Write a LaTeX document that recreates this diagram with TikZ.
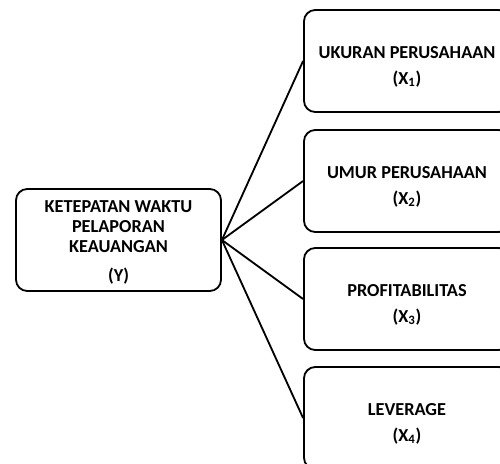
\documentclass[tikz,border=0pt]{standalone}
\usepackage{fontspec}
\setmainfont{Carlito}
\usetikzlibrary{positioning}

\tikzset{
  varbox/.style={draw, line width=1.3pt, rounded corners=8pt, align=center,
    font=\bfseries\fontsize{13}{14.2}\selectfont, inner sep=0pt},
  link/.style={line width=1.3pt}
}
\newcommand{\lowstrut}{\rule{0pt}{17pt}}

\begin{document}
\begin{tikzpicture}[x=0.025cm, y=-0.025cm]
            \useasboundingbox (0,0) rectangle (500,463);
            % Dependent variable
            \node[varbox, minimum width=205*0.025cm, minimum height=102*0.025cm] (y) at (118.5, 240) {\rule{0pt}{12pt}KETEPATAN WAKTU\\PELAPORAN\\KEAUANGAN\\[6pt](Y)};

            % Independent variables
            \node[varbox, minimum width=206*0.025cm, minimum height=102*0.025cm] (x1) at (407, 61) {\lowstrut UKURAN PERUSAHAAN\\[4pt](X\textsubscript{1})};
            \node[varbox, minimum width=206*0.025cm, minimum height=102*0.025cm] (x2) at (407, 181) {\lowstrut UMUR PERUSAHAAN\\[4pt](X\textsubscript{2})};
            \node[varbox, minimum width=206*0.025cm, minimum height=102*0.025cm] (x3) at (407, 299) {\lowstrut PROFITABILITAS\\[4pt](X\textsubscript{3})};
            \node[varbox, minimum width=206*0.025cm, minimum height=102*0.025cm] (x4) at (407, 418) {\lowstrut LEVERAGE\\[4pt](X\textsubscript{4})};

            % Links
            \draw[link] (y.east) -- (x1.west);
            \draw[link] (y.east) -- (x2.west);
            \draw[link] (y.east) -- (x3.west);
            \draw[link] (y.east) -- (x4.west);
        \end{tikzpicture}
\end{document}
